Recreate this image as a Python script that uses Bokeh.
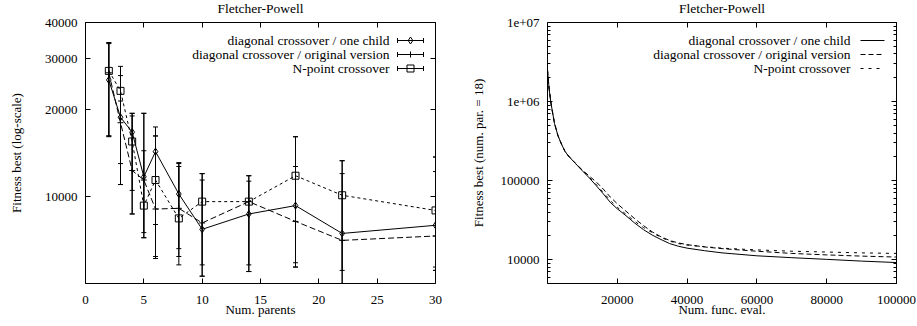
from bokeh.plotting import figure
from bokeh.layouts import row
from bokeh.models import (ColumnDataSource, FixedTicker, LinearAxis, LogAxis, Range1d,
                          LinearScale, CustomJSTickFormatter)
from bokeh.core.properties import value
from bokeh.embed import file_html
from bokeh.resources import INLINE

FONT = "Liberation Serif"
FS = "13px"
FS_BIG = "13.5px"

TITLE = "Fletcher-Powell"
NAMES = ["diagonal crossover / one child",
         "diagonal crossover / original version",
         "N-point crossover"]

# ---------------- left panel data ----------------
parents = [2, 3, 4, 5, 6, 8, 10, 14, 18, 22, 30]

one_child = [25300, 18800, 16700, 11700, 14300, 10200, 7700, 8700, 9300, 7450, 7950]
one_child_lo = [16200, 13000, 10500, 7200, 8000, 6600, 5300, 5500, 5700, 5000, 5550]
one_child_hi = [33800, 21400, 19400, 19400, 17400, 13100, 11400, 11800, 16100, 13300, 13700]

original = [26800, 18000, 12300, 11400, 9050, 9100, 8100, 9600, 8200, 7050, 7300]
original_lo = [16200, 11000, 8700, 7500, 6100, 5800, 5800, 5800, 5900, 5550, 5700]
original_hi = [34000, 26200, 19400, 14400, 16200, 12700, 12000, 11300, 12700, 12000, 12200]

npoint = [27200, 23200, 15500, 9300, 11400, 8400, 9600, 9600, 11800, 10100, 8950]
npoint_lo = [16100, 11000, 8700, 7200, 6200, 6200, 5300, 5500, 5700, 5000, 5550]
npoint_hi = [34100, 28200, 19000, 19400, 16200, 13000, 12000, 11800, 16100, 13300, 13700]

left_xticks = [0, 5, 10, 15, 20, 25, 30]
left_yticks = [10000, 20000, 30000, 40000]
left_ytick_labels = ["10000", "20000", "30000", "40000"]

# ---------------- right panel data ----------------
evals = [0, 500, 1000, 2000, 3000, 4000, 5000, 6000, 8000, 10000, 12000, 14000, 16000,
         18000, 20000, 22500, 25000, 27500, 30000, 32500, 35000, 37500, 40000, 45000,
         50000, 60000, 70000, 80000, 90000, 100000]
curve_one_child = [2500000, 1400000, 950000, 530000, 370000, 290000, 235000, 205000, 165000,
                   133000, 108000, 86000, 68000, 53000, 44000, 36000, 29000, 24000, 20500,
                   18000, 16000, 14800, 14000, 13000, 12200, 11200, 10600, 10100, 9600, 9200]
curve_original = [2500000, 1400000, 950000, 530000, 370000, 290000, 235000, 205000, 166000,
                  136000, 114000, 96000, 78000, 62000, 51000, 41000, 33000, 27000, 22500,
                  19500, 17500, 16300, 15500, 14500, 13800, 12800, 12000, 11500, 11100, 10800]
curve_npoint = [2500000, 1400000, 950000, 530000, 370000, 290000, 235000, 205000, 165000,
                135000, 110000, 89000, 71000, 56000, 46000, 37500, 30500, 25500, 22000,
                19200, 17200, 16000, 15300, 14600, 14000, 13300, 12800, 12500, 12200, 12000]

right_xticks = [20000, 40000, 60000, 80000, 100000]
right_xtick_labels = ["20000", "40000", "60000", "80000", "100000"]
right_yticks = [10000, 100000, 1000000, 10000000]
right_ytick_labels = ["10000", "100000", "1e+06", "1e+07"]

# ---------------- layout constants ----------------
FH = 261
TOP, BOTTOM = 32, 34
LEG_TEXT_X = 304
LEG_S0, LEG_S1 = 312, 338
LEG_ROWS = [18, 32, 46]


def base_fig(x_range, y_range, fw, left, right, xlabel, ylabel, xticks, yticks, ylabels,
             ylabel_standoff, xlabels=None, yminor=None):
    p = figure(frame_width=fw, frame_height=FH, x_range=x_range, y_range=y_range,
               y_axis_type="log", output_backend="svg", toolbar_location=None,
               min_border_left=left, min_border_right=right, min_border_top=TOP,
               min_border_bottom=BOTTOM, title=TITLE)
    p.extra_x_ranges = {"lx": Range1d(0, fw)}
    p.extra_y_ranges = {"ly": Range1d(FH, 0)}
    p.extra_x_scales = {"lx": LinearScale()}
    p.extra_y_scales = {"ly": LinearScale()}
    p.background_fill_color = "white"
    p.border_fill_color = "white"
    p.outline_line_color = "black"
    p.outline_line_width = 1
    p.grid.visible = False
    p.title.text_font = FONT
    p.title.text_font_size = FS_BIG
    p.title.text_font_style = "normal"
    p.title.align = "center"
    p.title.standoff = 14
    p.title.text_color = "black"

    xt = FixedTicker(ticks=xticks)
    yt = FixedTicker(ticks=yticks, minor_ticks=yminor or [])
    p.xaxis.ticker = xt
    p.yaxis.ticker = yt
    p.yaxis.major_label_overrides = {t: l for t, l in zip(yticks, ylabels)}
    if xlabels is not None:
        p.xaxis.major_label_overrides = {t: l for t, l in zip(xticks, xlabels)}
    for ax in (p.xaxis[0], p.yaxis[0]):
        ax.axis_line_color = None
        ax.major_tick_in = 5
        ax.major_tick_out = 0
        ax.minor_tick_in = 3
        ax.minor_tick_out = 0
        ax.major_tick_line_color = "black"
        ax.minor_tick_line_color = "black"
        ax.major_label_text_font = FONT
        ax.major_label_text_font_size = FS
        ax.major_label_text_color = "black"
        ax.axis_label_text_font = FONT
        ax.axis_label_text_font_size = FS
        ax.axis_label_text_font_style = "normal"
        ax.axis_label_text_color = "black"
    p.xaxis.axis_label = xlabel
    p.yaxis.axis_label = ylabel
    p.xaxis.major_label_standoff = 12
    p.xaxis.axis_label_standoff = -5
    p.yaxis.major_label_standoff = 8
    p.yaxis.axis_label_standoff = ylabel_standoff

    blank = CustomJSTickFormatter(code="return ''")
    top = LinearAxis(ticker=FixedTicker(ticks=xticks), formatter=blank, axis_line_color=None,
                     major_tick_in=5, major_tick_out=0, minor_tick_in=0, minor_tick_out=0,
                     major_label_standoff=0)
    rt = LogAxis(ticker=FixedTicker(ticks=yticks, minor_ticks=yminor or []), formatter=blank,
                 axis_line_color=None, major_tick_in=5, major_tick_out=0,
                 minor_tick_in=3, minor_tick_out=0, major_label_standoff=0)
    p.add_layout(top, "above")
    p.add_layout(rt, "right")
    return p


# ---------------- left figure ----------------
p1 = base_fig(Range1d(0, 30), Range1d(5000, 40000), 350, 85, 25, "Num. parents",
              "Fitness best (log-scale)", left_xticks, left_yticks, left_ytick_labels, 18)

left_series = [
    (one_child, one_child_lo, one_child_hi, "solid", "diamond", 7),
    (original, original_lo, original_hi, "6 3", "cross", 6),
    (npoint, npoint_lo, npoint_hi, "3 3", "square", 7),
]
for vals, lo, hi, dash, marker, size in left_series:
    src = ColumnDataSource(dict(x=parents, y=vals, lo=lo, hi=hi))
    p1.line("x", "y", source=src, line_color="black", line_width=1, line_dash=dash)
    p1.segment(x0="x", x1="x", y0="lo", y1="hi", source=src, line_color="black", line_width=1)
    p1.scatter("x", "lo", source=src, marker="dash", size=5, line_color="black", line_width=1)
    p1.scatter("x", "hi", source=src, marker="dash", size=5, line_color="black", line_width=1)
    p1.scatter("x", "y", source=src, marker=marker, size=size, line_color="black",
               fill_alpha=0, line_width=1)

# legend (left) : text then errorbar sample
markers = [("diamond", 7), ("cross", 6), ("square", 7)]
p1.text(x=[LEG_TEXT_X] * 3, y=LEG_ROWS, text=NAMES, x_range_name="lx", y_range_name="ly",
        text_font=value(FONT), text_font_size=FS_BIG, text_align="right",
        text_baseline="middle", text_color="black")
p1.segment(x0=[LEG_S0] * 3, x1=[LEG_S1] * 3, y0=LEG_ROWS, y1=LEG_ROWS, x_range_name="lx",
           y_range_name="ly", line_color="black", line_width=1)
p1.segment(x0=[LEG_S0] * 3 + [LEG_S1] * 3, x1=[LEG_S0] * 3 + [LEG_S1] * 3,
           y0=[r - 2.5 for r in LEG_ROWS] * 2, y1=[r + 2.5 for r in LEG_ROWS] * 2,
           x_range_name="lx", y_range_name="ly", line_color="black", line_width=1)
for (m, s), r in zip(markers, LEG_ROWS):
    p1.scatter(x=[(LEG_S0 + LEG_S1) / 2], y=[r], marker=m, size=s, line_color="black",
               fill_alpha=0, x_range_name="lx", y_range_name="ly")

# ---------------- right figure ----------------
yminor = [m * 10 ** k for k in range(3, 7) for m in range(2, 10) if 5000 <= m * 10 ** k <= 1e7]
p2 = base_fig(Range1d(0, 100000), Range1d(5000, 1e7), 349, 87, 21, "Num. func. eval.",
              "Fitness best (num. par. = 18)", right_xticks, right_yticks, right_ytick_labels,
              12, xlabels=right_xtick_labels, yminor=yminor)

right_series = [(curve_one_child, "solid"), (curve_original, "5 3"), (curve_npoint, "3 5")]
for vals, dash in right_series:
    p2.line(evals, vals, line_color="black", line_width=1, line_dash=dash)

p2.text(x=[LEG_TEXT_X - 1] * 3, y=LEG_ROWS, text=NAMES, x_range_name="lx", y_range_name="ly",
        text_font=value(FONT), text_font_size=FS_BIG, text_align="right",
        text_baseline="middle", text_color="black")
for (vals, dash), r in zip(right_series, LEG_ROWS):
    p2.segment(x0=[LEG_S0 + 1], x1=[LEG_S1 - 1], y0=[r], y1=[r], x_range_name="lx",
               y_range_name="ly", line_color="black", line_width=1, line_dash=dash)

layout = row(p1, p2, styles={"margin-top": "-10px"})
open("out.html", "w").write(file_html(layout, INLINE))
